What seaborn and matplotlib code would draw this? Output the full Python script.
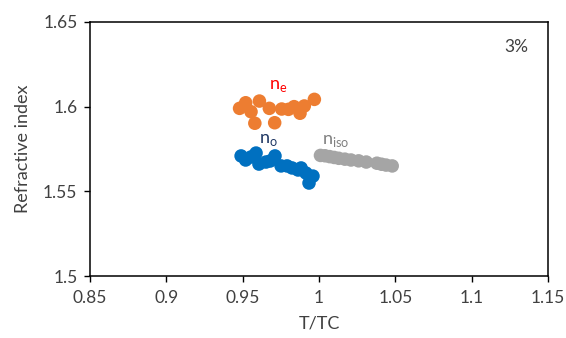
import matplotlib
matplotlib.use("Agg")
import matplotlib.pyplot as plt
import seaborn as sns
import pandas as pd

# Refractive index vs reduced temperature (3% sample)
ne_t = [0.948, 0.952, 0.9555, 0.961, 0.958, 0.9675, 0.971, 0.9756, 0.980, 0.9837, 0.9876, 0.9904, 0.997]
ne_n = [1.599, 1.6023, 1.597, 1.6033, 1.5902, 1.599, 1.5905, 1.5986, 1.5984, 1.600, 1.5961, 1.6004, 1.6043]

no_t = [0.949, 0.952, 0.9555, 0.9588, 0.9607, 0.9653, 0.968, 0.9712, 0.9752, 0.9791, 0.9824, 0.9863, 0.9883, 0.9915, 0.9935, 0.9961]
no_n = [1.5709, 1.5685, 1.5703, 1.5726, 1.5661, 1.5673, 1.5679, 1.5709, 1.565, 1.565, 1.5638, 1.5626, 1.5638, 1.5608, 1.5549, 1.559]

niso_t = [1.001, 1.004, 1.007, 1.010, 1.013, 1.017, 1.021, 1.026, 1.031, 1.038, 1.041, 1.044, 1.048]
niso_n = [1.5712, 1.5710, 1.5705, 1.5700, 1.5695, 1.5690, 1.5685, 1.5680, 1.5673, 1.5666, 1.5660, 1.5655, 1.5650]

x_ticks = [0.85, 0.9, 0.95, 1, 1.05, 1.1, 1.15]
x_tick_labels = ["0.85", "0.9", "0.95", "1", "1.05", "1.1", "1.15"]
y_ticks = [1.5, 1.55, 1.6, 1.65]
y_tick_labels = ["1.5", "1.55", "1.6", "1.65"]

df = pd.concat([
    pd.DataFrame({"T/TC": ne_t, "n": ne_n, "series": "ne"}),
    pd.DataFrame({"T/TC": no_t, "n": no_n, "series": "no"}),
    pd.DataFrame({"T/TC": niso_t, "n": niso_n, "series": "niso"}),
])

sns.set_theme(style="white")
plt.rcParams["font.family"] = ["Lato", "DejaVu Sans"]

fig = plt.figure(figsize=(5.66, 3.38), dpi=100)
ax = fig.add_axes([0.159, 0.1834, 0.809, 0.7516])

palette = {"ne": "#ED7D31", "no": "#0070C0", "niso": "#A5A5A5"}
sns.scatterplot(data=df, x="T/TC", y="n", hue="series", palette=palette,
                s=95, linewidth=0, legend=False, ax=ax, zorder=3)

ax.set_xlim(0.85, 1.15)
ax.set_ylim(1.5, 1.65)
ax.set_xticks(x_ticks)
ax.set_xticklabels(x_tick_labels)
ax.set_yticks(y_ticks)
ax.set_yticklabels(y_tick_labels)
ax.tick_params(axis="both", direction="out", length=4, width=1, color="black",
               labelsize=12.5, labelcolor="#404040", left=True, bottom=True)
ax.tick_params(axis="x", pad=6)
ax.tick_params(axis="y", pad=5)
for sp in ax.spines.values():
    sp.set_color("black")
    sp.set_linewidth(1.1)

ax.set_xlabel("T/TC", fontsize=13, color="#404040", labelpad=7)
ax.set_ylabel("Refractive index", fontsize=13, color="#404040", labelpad=9)

ax.text(0.973, 1.612, r"n$_\mathregular{e}$", color="#FF0000", fontsize=13, ha="center", va="center")
ax.text(0.9667, 1.5805, r"n$_\mathregular{o}$", color="#203864", fontsize=13, ha="center", va="center")
ax.text(1.011, 1.5798, r"n$_\mathregular{iso}$", color="#808080", fontsize=13, ha="center", va="center")
ax.text(0.93, 0.903, "3%", transform=ax.transAxes, color="#404040", fontsize=12.5,
        ha="center", va="center")

fig.savefig("out.png", dpi=100)
